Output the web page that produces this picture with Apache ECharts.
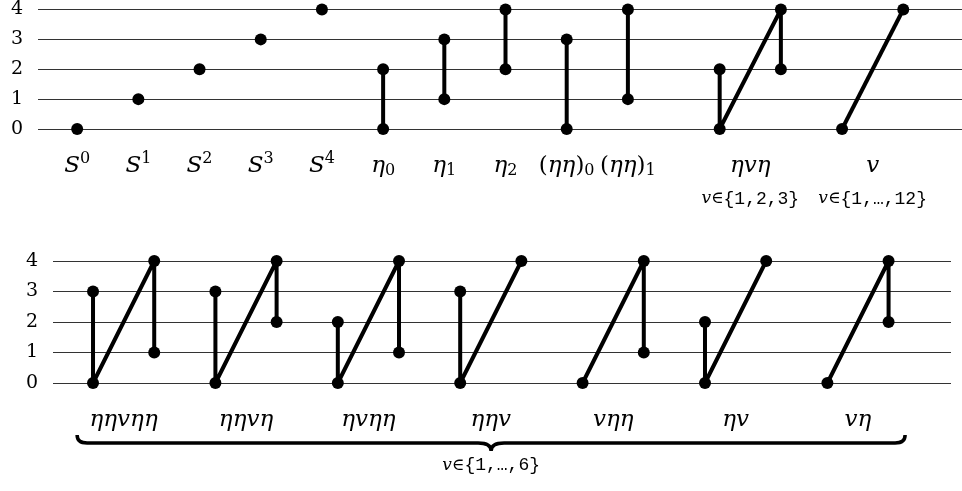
<!DOCTYPE html>
<html><head><meta charset="utf-8">
<script src="https://cdn.jsdelivr.net/npm/echarts@6/dist/echarts.min.js"></script>
<style>html,body{margin:0;padding:0;background:#fff}#c{width:962px;height:491px}</style>
</head><body><div id="c"></div>
<script>
// ---------- data ----------
const yTicks = [0, 1, 2, 3, 4];

// top panel
const topLabelPos  = [0, 1, 2, 3, 4, 5, 6, 7, 8, 9, 11, 13];
const topLabelBase = ['S', 'S', 'S', 'S', 'S', 'η', 'η', 'η', '(ηη)', '(ηη)', 'ηvη', 'v'];
const topLabelSup  = ['0', '1', '2', '3', '4', '', '', '', '', '', '', ''];
const topLabelSub  = ['', '', '', '', '', '0', '1', '2', '0', '1', '', ''];
const topLabelNote = ['', '', '', '', '', '', '', '', '', '', 'v∈{1,2,3}', 'v∈{1,…,12}'];
const topFigures = [
  [[0, 0]], [[1, 1]], [[2, 2]], [[3, 3]], [[4, 4]],
  [[5, 0], [5, 2]], [[6, 1], [6, 3]], [[7, 2], [7, 4]], [[8, 0], [8, 3]], [[9, 1], [9, 4]],
  [[10.5, 2], [10.5, 0], [11.5, 4], [11.5, 2]],
  [[12.5, 0], [13.5, 4]]
];

// bottom panel
const bottomLabelPos = [0.5, 2.5, 4.5, 6.5, 8.5, 10.5, 12.5];
const bottomLabels   = ['ηηvηη', 'ηηvη', 'ηvηη', 'ηηv', 'vηη', 'ηv', 'vη'];
const bottomFigures = [
  [[0, 3], [0, 0], [1, 4], [1, 1]],
  [[2, 3], [2, 0], [3, 4], [3, 2]],
  [[4, 2], [4, 0], [5, 4], [5, 1]],
  [[6, 3], [6, 0], [7, 4]],
  [[8, 0], [9, 4], [9, 1]],
  [[10, 2], [10, 0], [11, 4]],
  [[12, 0], [13, 4], [13, 2]]
];
const braceRange = [-0.26, 13.27];
const braceLevel = -1.97;
const braceNote = 'v∈{1,…,6}';

// ---------- styles ----------
const SERIF = 'DejaVu Serif';
const MONO = 'Liberation Mono';
const rich = {
  m:   {fontFamily: SERIF, fontStyle: 'italic', fontSize: 23, lineHeight: 30, color: '#000'},
  r:   {fontFamily: SERIF, fontSize: 23, lineHeight: 30, color: '#000'},
  sup: {fontFamily: SERIF, fontSize: 16, lineHeight: 16, padding: [0, 0, 14, 0], color: '#000'},
  sub: {fontFamily: SERIF, fontSize: 16, lineHeight: 16, padding: [10, 0, 0, 0], color: '#000'},
  i:   {fontFamily: SERIF, fontStyle: 'italic', fontSize: 17, lineHeight: 36, color: '#000'},
  e:   {fontFamily: SERIF, fontSize: 17, lineHeight: 36, color: '#000'}
};

function noteFmt(t) {
  return '{i|' + t[0] + '}{e|' + t[1] + '}' + t.slice(2);
}
function topFmt(v) {
  const i = topLabelPos.indexOf(v);
  if (i < 0) return '';
  const base = topLabelBase[i];
  let s = base.charAt(0) === '(' ? '{r|(}{m|' + base.slice(1, -1) + '}{r|)}' : '{m|' + base + '}';
  if (topLabelSup[i]) s += '{sup|' + topLabelSup[i] + '}';
  if (topLabelSub[i]) s += '{sub|' + topLabelSub[i] + '}';
  if (topLabelNote[i]) s += '\n' + noteFmt(topLabelNote[i]);
  return s;
}
function bottomFmt(v) {
  const i = bottomLabelPos.indexOf(v);
  return i < 0 ? '' : '{m|' + bottomLabels[i] + '}';
}

function xAxisFor(grid, min, max, values, fmt) {
  return {
    gridIndex: grid, type: 'value', min: min, max: max,
    axisLine: {show: false}, axisTick: {show: false}, splitLine: {show: false},
    axisLabel: {
      customValues: values, formatter: fmt, margin: 22,
      fontFamily: MONO, fontSize: 18, lineHeight: 36, color: '#000', rich: rich
    }
  };
}
function yAxisFor(grid) {
  return {
    gridIndex: grid, type: 'value', min: 0, max: 4, interval: 1,
    axisLine: {show: false}, axisTick: {show: false},
    splitLine: {show: true, lineStyle: {color: '#333', width: 1}},
    axisLabel: {margin: 15, fontFamily: SERIF, fontSize: 19, color: '#000'}
  };
}
function figSeries(figs, idx) {
  return figs.map(f => ({
    type: 'line', xAxisIndex: idx, yAxisIndex: idx, data: f,
    symbol: 'circle', symbolSize: 12, showSymbol: true, clip: false,
    itemStyle: {color: '#000'}, lineStyle: {color: '#000', width: 4},
    animation: false, silent: true
  }));
}

const braceSeries = {
  type: 'custom', xAxisIndex: 1, yAxisIndex: 1, clip: false, silent: true, animation: false,
  data: [[braceRange[0], braceRange[1], braceLevel]],
  encode: {x: [0, 1], y: 2},
  renderItem: function (params, api) {
    const p0 = api.coord([api.value(0), api.value(2)]);
    const p1 = api.coord([api.value(1), api.value(2)]);
    const x0 = p0[0], x1 = p1[0], y = p0[1], xm = (x0 + x1) / 2;
    const he = 8, ce = 10, hm = 8, cm = 13;
    const d = 'M' + x0 + ',' + (y - he) + ' Q' + x0 + ',' + y + ' ' + (x0 + ce) + ',' + y +
      ' L' + (xm - cm) + ',' + y + ' Q' + xm + ',' + y + ' ' + xm + ',' + (y + hm) +
      ' Q' + xm + ',' + y + ' ' + (xm + cm) + ',' + y +
      ' L' + (x1 - ce) + ',' + y + ' Q' + x1 + ',' + y + ' ' + x1 + ',' + (y - he);
    return {
      type: 'group',
      children: [
        {type: 'path', shape: {pathData: d}, style: {stroke: '#000', fill: 'none', lineWidth: 3.5}},
        {type: 'text', x: xm, y: y + 22,
         style: {text: noteFmt(braceNote), align: 'center', verticalAlign: 'middle',
                 fontFamily: MONO, fontSize: 18, lineHeight: 36, fill: '#000', rich: rich}}
      ]
    };
  }
};

const chart = echarts.init(document.getElementById('c'), null, {renderer: 'canvas'});
chart.setOption({
  animation: false,
  backgroundColor: '#fff',
  grid: [
    {left: 38, right: 0, top: 6, height: 123},
    {left: 53, right: 11, top: 261, height: 122}
  ],
  xAxis: [
    xAxisFor(0, -0.64, 14.46, topLabelPos, topFmt),
    xAxisFor(1, -0.654, 14.02, bottomLabelPos, bottomFmt)
  ],
  yAxis: [yAxisFor(0), yAxisFor(1)],
  series: figSeries(topFigures, 0).concat(figSeries(bottomFigures, 1), [braceSeries])
});
</script>
</body></html>
